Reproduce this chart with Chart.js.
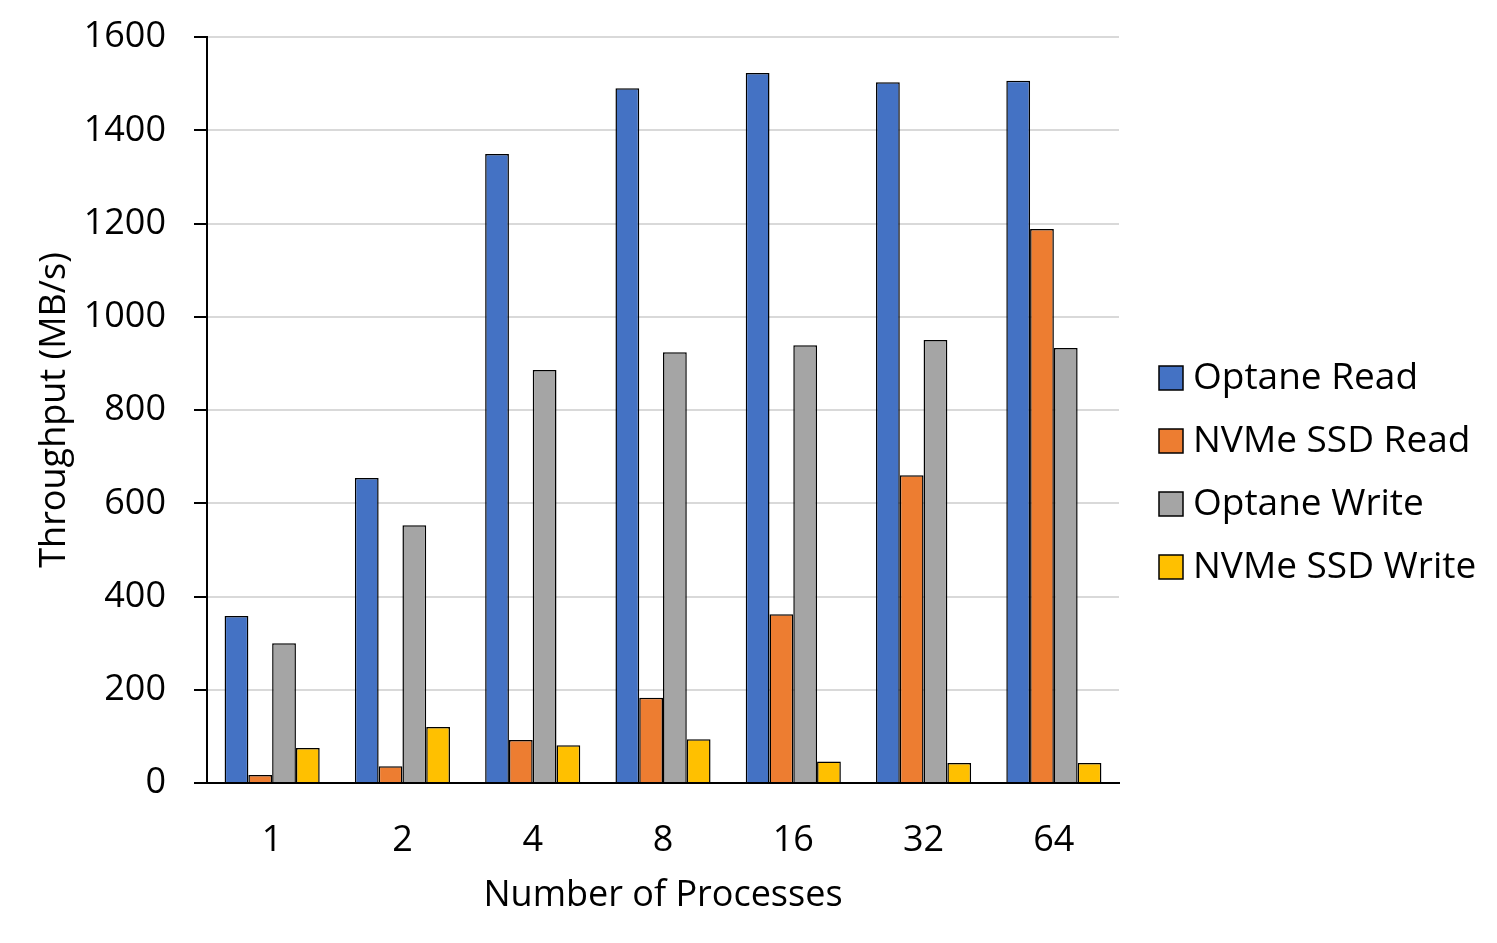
<!DOCTYPE html>
<html>
<head>
<meta charset="utf-8">
<script src="https://cdn.jsdelivr.net/npm/chart.js@4.4.1/dist/chart.umd.min.js"></script>
<style>
  html, body { margin: 0; padding: 0; background: #fff; }
  #wrap { width: 1497px; height: 943px; }
</style>
</head>
<body>
<div id="wrap"><canvas id="grafico" width="1497" height="943"></canvas></div>
<script>
// Datos del gráfico
const procesos = ['1', '2', '4', '8', '16', '32', '64'];
const optaneRead = [358, 654, 1349, 1490, 1523, 1503, 1506];
const nvmeRead = [17, 36, 92, 183, 362, 660, 1188];
const optaneWrite = [300, 553, 886, 924, 939, 950, 933];
const nvmeWrite = [75, 120, 81, 94, 46, 43, 43];
const ticksY = [0, 200, 400, 600, 800, 1000, 1200, 1400, 1600];

const fuente = "'Open Sans', sans-serif";

// Leyenda dibujada a mano a la derecha
const leyenda = {
  id: 'leyenda',
  afterDraw(chart) {
    const ctx = chart.ctx;
    ctx.save();
    ctx.font = `37px ${fuente}`;
    ctx.textBaseline = 'middle';
    ctx.textAlign = 'left';
    chart.data.datasets.forEach((ds, i) => {
      const y = 378 + i * 63;
      ctx.fillStyle = ds.backgroundColor;
      ctx.fillRect(1159, y - 12, 24, 24);
      ctx.strokeStyle = '#000';
      ctx.lineWidth = 1.5;
      ctx.strokeRect(1159, y - 12, 24, 24);
      ctx.fillStyle = '#000';
      ctx.fillText(ds.label, 1193, y);
    });
    ctx.restore();
  }
};

function serie(label, data, color) {
  return {
    label: label,
    data: data,
    backgroundColor: color,
    borderColor: '#000',
    borderWidth: 1.5,
    borderSkipped: 'bottom',
    categoryPercentage: 0.73,
    barPercentage: 1
  };
}

new Chart(document.getElementById('grafico'), {
  type: 'bar',
  data: {
    labels: procesos,
    datasets: [
      serie('Optane Read', optaneRead, '#4472C4'),
      serie('NVMe SSD Read', nvmeRead, '#ED7D31'),
      serie('Optane Write', optaneWrite, '#A5A5A5'),
      serie('NVMe SSD Write', nvmeWrite, '#FFC000')
    ]
  },
  options: {
    responsive: false,
    animation: false,
    layout: { padding: { top: 37, right: 378, bottom: 0, left: 0 } },
    plugins: {
      legend: { display: false },
      tooltip: { enabled: false }
    },
    scales: {
      x: {
        grid: { display: false, drawTicks: false },
        border: { display: true, color: '#000', width: 2 },
        ticks: { color: '#000', font: { family: fuente, size: 36 }, padding: 36 },
        title: {
          display: true,
          text: 'Number of Processes',
          color: '#000',
          font: { family: fuente, size: 36 },
          padding: { top: 0, bottom: 26 }
        },
        afterFit(scale) {
          scale.height = 943 - 783;
          scale.paddingLeft = 0;
          scale.paddingRight = 0;
        }
      },
      y: {
        min: 0,
        max: 1600,
        afterBuildTicks(scale) { scale.ticks = ticksY.map(v => ({ value: v })); },
        grid: { color: '#D9D9D9', lineWidth: 2, tickLength: 13, tickColor: '#000', tickWidth: 2 },
        border: { display: true, color: '#000', width: 2 },
        ticks: {
          color: '#000',
          font: { family: fuente, size: 36 },
          padding: 28,
          callback: v => String(v)
        },
        title: {
          display: true,
          text: 'Throughput (MB/s)',
          color: '#000',
          font: { family: fuente, size: 36 },
          padding: { top: 33, bottom: 0 }
        },
        afterFit(scale) {
          scale.width = 207;
          scale.paddingTop = 0;
          scale.paddingBottom = 0;
        }
      }
    }
  },
  plugins: [leyenda]
});
</script>
</body>
</html>
